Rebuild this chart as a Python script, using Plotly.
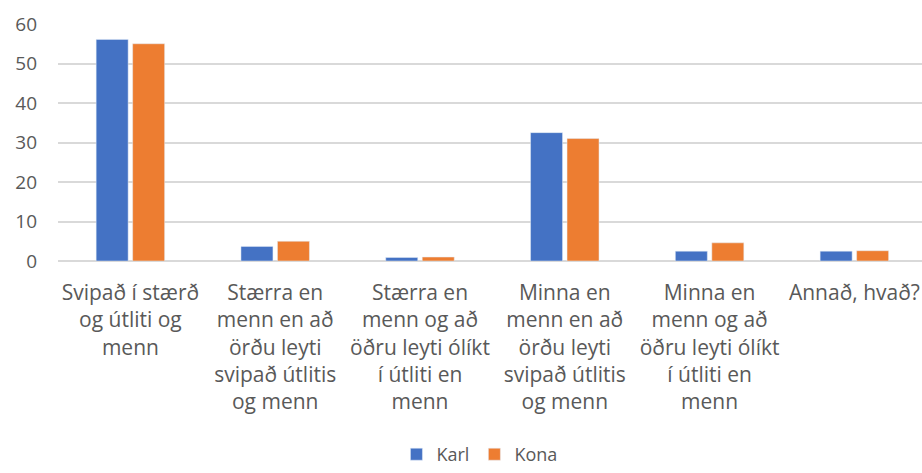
import plotly.graph_objects as go

categories = [
    "Svipað í stærð<br>og útliti og<br>menn",
    "Stærra en<br>menn en að<br>örðu leyti<br>svipað útlitis<br>og menn",
    "Stærra en<br>menn og að<br>öðru leyti ólíkt<br>í útliti en<br>menn",
    "Minna en<br>menn en að<br>örðu leyti<br>svipað útlitis<br>og menn",
    "Minna en<br>menn og að<br>öðru leyti ólíkt<br>í útliti en<br>menn",
    "Annað, hvað?",
]
karl = [56.1, 3.7, 0.9, 32.5, 2.5, 2.5]
kona = [55.0, 5.0, 1.0, 31.0, 4.6, 2.6]
y_ticks = [0, 10, 20, 30, 40, 50, 60]

BLUE = "#4472C4"
ORANGE = "#ED7D31"
TEXT = "#595959"
GRID = "#D9D9D9"
FONT = "Open Sans"

fig = go.Figure()
fig.add_trace(go.Bar(name="Karl", x=categories, y=karl, marker_color=BLUE))
fig.add_trace(go.Bar(name="Kona", x=categories, y=kona, marker_color=ORANGE))

fig.update_layout(
    width=922,
    height=473,
    margin=dict(l=58, r=0, t=24, b=212, autoexpand=False),
    paper_bgcolor="white",
    plot_bgcolor="white",
    barmode="group",
    bargap=0.496,
    bargroupgap=0.123,
    font=dict(family=FONT, size=19, color=TEXT),
    showlegend=True,
    legend=dict(
        orientation="h",
        x=0.52,
        xanchor="center",
        xref="container",
        y=0.0,
        yanchor="bottom",
        yref="container",
        font=dict(family=FONT, size=18, color=TEXT),
        itemwidth=30,
        borderwidth=0,
    ),
)
fig.update_xaxes(
    range=[-0.5, 5.467],
    automargin=False,
    showgrid=False,
    showline=False,
    ticks="",
    ticklabelstandoff=17,
    tickfont=dict(family=FONT, size=21, color=TEXT),
)
fig.update_yaxes(
    range=[0, 60],
    automargin=False,
    tickvals=y_ticks,
    showgrid=True,
    gridcolor=GRID,
    gridwidth=1.5,
    zeroline=True,
    zerolinecolor=GRID,
    zerolinewidth=1.5,
    showline=False,
    ticks="",
    ticklabelstandoff=20,
    tickfont=dict(family=FONT, size=19, color=TEXT),
)

fig.write_html("out.html")
